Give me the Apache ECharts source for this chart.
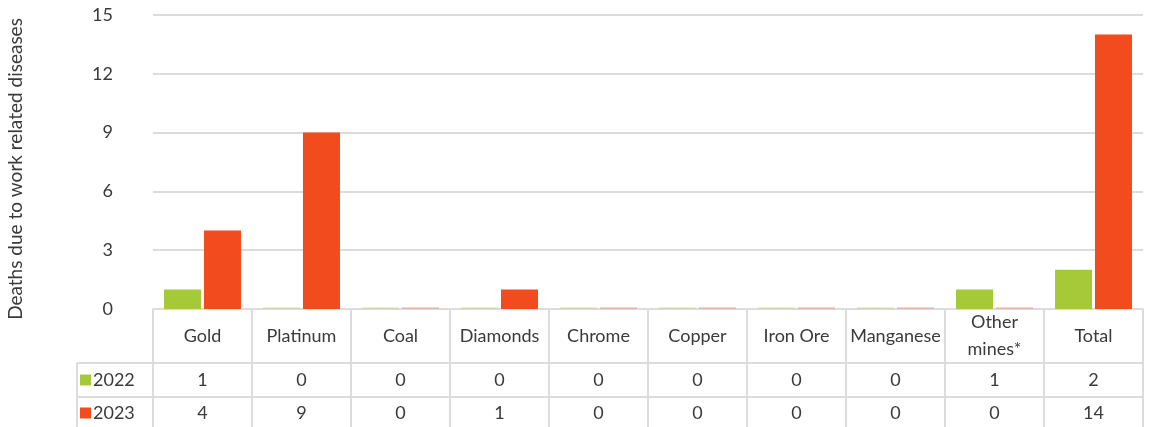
<!DOCTYPE html>
<html>
<head>
<meta charset="utf-8">
<script src="https://cdn.jsdelivr.net/npm/echarts@6/dist/echarts.min.js"></script>
<style>
html, body { margin: 0; padding: 0; background: #fff; }
#chart { width: 1156px; height: 427px; }
</style>
</head>
<body>
<div id="chart"></div>
<script>
// mine categories and deaths per year
let categories = ['Gold', 'Platinum', 'Coal', 'Diamonds', 'Chrome', 'Copper', 'Iron Ore', 'Manganese', 'Other mines*', 'Total'];
let years = ['2022', '2023'];
let deaths2022 = [1, 0, 0, 0, 0, 0, 0, 0, 1, 2];
let deaths2023 = [4, 9, 0, 1, 0, 0, 0, 0, 0, 14];
let yTicks = [0, 3, 6, 9, 12, 15];

let colors = ['#a6ca37', '#f14b1e'];
let fontName = 'Lato';
let textColor = '#3a3a3a';
let lineColor = '#dcdcdc';

// plot area (table columns follow the same width)
let gLeft = 153, gRight = 13, gTop = 15, gBottom = 118;
let W = 1156, H = 427;
let plotW = W - gLeft - gRight;
let colW = plotW / categories.length;
let axisY = H - gBottom;
let row1 = axisY + 54, row2 = row1 + 34;
let legendX = 77;

let myChart = echarts.init(document.getElementById('chart'));

function barData(vals, color){
    return vals.map(function(v){
        return {
            value: v,
            itemStyle: { color: color, opacity: v === 0 ? 0.25 : 1 }
        }
    })
}

// table lines
let graphics = [];
function hline(x1, x2, y){
    graphics.push({ type: 'line', shape: { x1: x1, y1: y, x2: x2, y2: y }, style: { stroke: lineColor, lineWidth: 2 }, z: 0 });
}
function vline(x, y1, y2){
    graphics.push({ type: 'line', shape: { x1: x, y1: y1, x2: x, y2: y2 }, style: { stroke: lineColor, lineWidth: 2 }, z: 0 });
}
for(let i = 0; i <= categories.length; i++){
    vline(gLeft + colW * i, axisY, H);
}
vline(legendX, row1, H);
hline(legendX, gLeft + plotW, row1);
hline(legendX, gLeft + plotW, row2);

// one legend per table row
function legendFor(name, top){
    return {
        data: [name],
        left: 80,
        top: top,
        itemWidth: 11,
        itemHeight: 11,
        itemGap: 0,
        padding: 0,
        icon: 'rect',
        selectedMode: false,
        textStyle: { color: textColor, fontSize: 18, fontFamily: fontName, padding: [0, 0, 0, -3] }
    }
}

let option = {
    backgroundColor: '#fff',
    animation: false,
    textStyle: { fontFamily: fontName },
    grid: { left: gLeft, right: gRight, top: gTop, bottom: gBottom, containLabel: false, outerBoundsMode: 'none' },
    legend: [legendFor(years[0], row1 + 8), legendFor(years[1], row2 + 7)],
    xAxis: {
        type: 'category',
        data: categories,
        axisTick: { show: false },
        axisLine: { lineStyle: { color: lineColor, width: 2 } },
        axisLabel: {
            interval: 0,
            margin: 0,
            verticalAlign: 'top',
            formatter: function(name, idx){
                let head;
                if(name.indexOf(' mines') > 0){
                    let p = name.split(' ');
                    head = '{h2|' + p[0] + '}\n{h2|' + p[1] + '}';
                } else {
                    head = '{h|' + name + '}';
                }
                return head + '\n{a|' + deaths2022[idx] + '}\n{b|' + deaths2023[idx] + '}';
            },
            rich: {
                h: { fontSize: 18, color: textColor, lineHeight: 54, fontFamily: fontName },
                h2: { fontSize: 18, color: textColor, lineHeight: 27, fontFamily: fontName },
                a: { fontSize: 18, color: textColor, lineHeight: 34, fontFamily: fontName },
                b: { fontSize: 18, color: textColor, lineHeight: 32, fontFamily: fontName }
            }
        }
    },
    yAxis: {
        type: 'value',
        min: 0,
        max: 15,
        interval: 3,
        name: 'Deaths due to work related diseases',
        nameLocation: 'middle',
        nameGap: 128,
        nameTextStyle: { color: textColor, fontSize: 19, fontFamily: fontName, padding: [0, 14, 0, 0] },
        axisLine: { show: false },
        axisTick: { show: false },
        axisLabel: {
            margin: 40,
            color: textColor,
            fontSize: 18,
            fontFamily: fontName,
            formatter: function(v){ return yTicks.indexOf(v) >= 0 ? String(v) : ''; }
        },
        splitLine: { lineStyle: { color: lineColor, width: 2 } }
    },
    series: [
        {
            name: years[0],
            type: 'bar',
            data: barData(deaths2022, colors[0]),
            itemStyle: { color: colors[0] },
            barWidth: 37,
            barGap: '8%',
            barMinHeight: 2
        },
        {
            name: years[1],
            type: 'bar',
            data: barData(deaths2023, colors[1]),
            itemStyle: { color: colors[1] },
            barWidth: 37,
            barGap: '8%',
            barMinHeight: 2
        }
    ],
    graphic: graphics
}
myChart.setOption(option);
</script>
</body>
</html>
